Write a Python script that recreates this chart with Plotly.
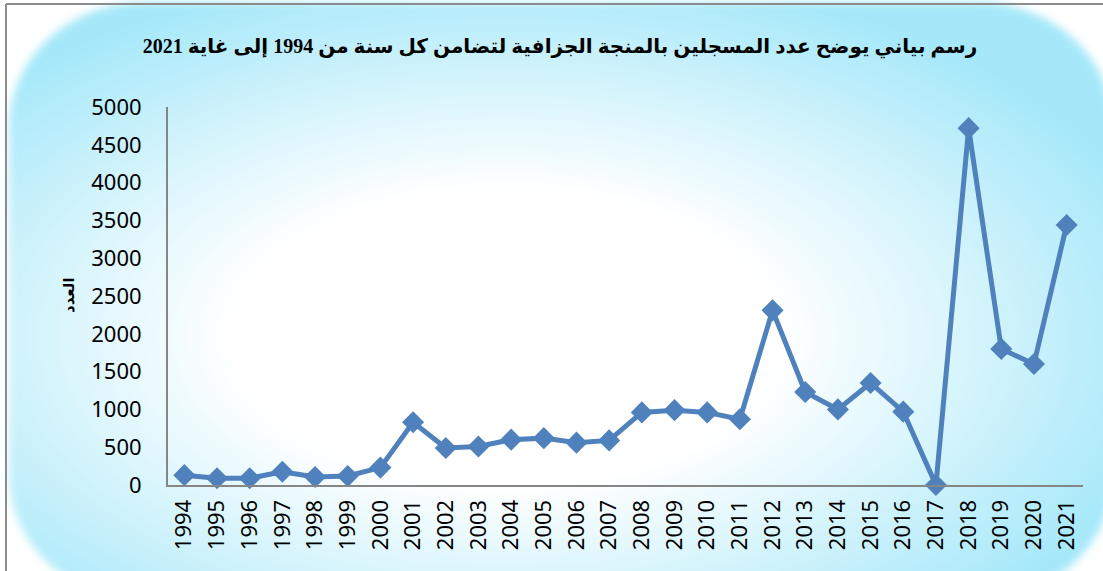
import base64
import plotly.graph_objects as go

# --- Dados ---
anos = [1994, 1995, 1996, 1997, 1998, 1999, 2000, 2001, 2002, 2003, 2004, 2005, 2006, 2007,
        2008, 2009, 2010, 2011, 2012, 2013, 2014, 2015, 2016, 2017, 2018, 2019, 2020, 2021]
inscritos = [130, 90, 90, 175, 105, 120, 230, 830, 490, 510, 600, 620, 560, 590,
             960, 990, 960, 870, 2310, 1230, 1000, 1350, 970, 0, 4720, 1800, 1600, 3440]
y_ticks = [0, 500, 1000, 1500, 2000, 2500, 3000, 3500, 4000, 4500, 5000]

titulo = "رسم بياني يوضح عدد المسجلين بالمنجة الجزافية لتضامن كل سنة من 1994 إلى غاية 2021"
titulo_y = "العدد"

W, H = 1103, 571
L, R, T, B = 168, 20, 107, 86
PW, PH = W - L - R, H - T - B

# --- Fundo (gradiente radial em SVG) ---
svg = f"""<svg xmlns='http://www.w3.org/2000/svg' width='{W}' height='{H}' viewBox='0 0 {W} {H}'>
<defs>
<radialGradient id='g' cx='0.45' cy='0.56' r='0.62'>
<stop offset='0' stop-color='#ffffff'/>
<stop offset='0.40' stop-color='#ffffff'/>
<stop offset='1' stop-color='#a6e8f9'/>
</radialGradient>
<filter id='f' x='-5%' y='-5%' width='110%' height='110%'><feGaussianBlur stdDeviation='4'/></filter>
</defs>
<rect x='0' y='0' width='{W}' height='{H}' fill='#ffffff'/>
<rect x='9' y='2' width='1104' height='598' rx='135' ry='125' fill='url(#g)' filter='url(#f)'/>
<line x1='6' y1='4' x2='{W}' y2='4' stroke='#8c8c8c' stroke-width='2'/>
<line x1='6' y1='4' x2='6' y2='{H}' stroke='#8c8c8c' stroke-width='2'/>
</svg>"""
fundo = "data:image/svg+xml;base64," + base64.b64encode(svg.encode("utf-8")).decode("ascii")

fig = go.Figure()
fig.add_trace(go.Scatter(
    x=[str(a) for a in anos], y=inscritos, mode="lines+markers",
    line=dict(color="#4f81bd", width=5),
    marker=dict(symbol="diamond", size=17, color="#4f81bd"),
    cliponaxis=False, showlegend=False,
))

fig.update_layout(
    width=W, height=H,
    margin=dict(l=L, r=R, t=T, b=B),
    paper_bgcolor="white",
    plot_bgcolor="rgba(0,0,0,0)",
    title=dict(text=titulo, x=560 / W, xref="container", xanchor="center",
               y=1 - 46 / H, yref="container", yanchor="middle",
               font=dict(family="Liberation Serif, DejaVu Sans", size=20, color="black", weight="bold")),
    images=[dict(source=fundo, xref="paper", yref="paper",
                 x=-L / PW, y=1 + T / PH, sizex=W / PW, sizey=H / PH,
                 xanchor="left", yanchor="top", sizing="stretch", layer="below")],
    annotations=[dict(text=titulo_y, xref="paper", yref="paper",
                      x=(58 - L) / PW, y=(H - B - 295) / PH, showarrow=False, textangle=-90,
                      font=dict(family="DejaVu Sans", size=15, color="black", weight="bold"))],
    font=dict(family="Noto Sans", color="black"),
)

fig.update_xaxes(type="category", range=[-0.5, len(anos) - 0.5], tickangle=-90,
                 showline=True, linecolor="#868686", linewidth=2, showgrid=False,
                 ticks="", tickfont=dict(size=22), zeroline=False, ticklabelstandoff=4)
fig.update_yaxes(range=[0, 5000], tickvals=y_ticks, showline=True, linecolor="#868686",
                 linewidth=2, showgrid=False, ticks="", tickfont=dict(size=22),
                 zeroline=False, ticklabelstandoff=20)

fig.write_html("out.html", config={"displayModeBar": False},
               post_script="document.body.style.margin='0';")
